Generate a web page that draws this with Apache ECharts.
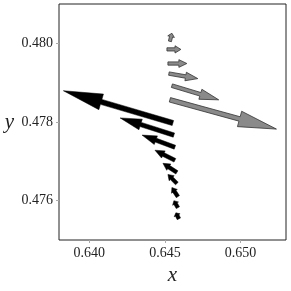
<!DOCTYPE html>
<html><head><meta charset="utf-8">
<script src="https://cdn.jsdelivr.net/npm/echarts@6/dist/echarts.min.js"></script>
<style>html,body{margin:0;padding:0;background:#fff}#c{width:291px;height:291px}</style>
</head><body><div id="c"></div>
<script>
// Black arrows: tail x, tail y, dx, dy
var blackX = [0.645526,0.645592,0.645658,0.645658,0.645789,0.645789,0.645855,0.645855,0.645921];
var blackY = [0.477974,0.477667,0.477359,0.477026,0.476718,0.476436,0.476103,0.475821,0.475538];
var blackU = [-0.007237,-0.003553,-0.002171,-0.001316,-0.000921,-0.000592,-0.000395,-0.000263,-0.000197];
var blackV = [0.000821,0.000436,0.000308,0.000256,0.000231,0.000231,0.000231,0.000179,0.000154];
// Gray arrows
var grayX = [0.645329,0.645461,0.645263,0.645197,0.645132,0.645329];
var grayY = [0.478564,0.478923,0.479231,0.479487,0.479846,0.480051];
var grayU = [0.007039,0.003092,0.001908,0.001250,0.000921,0.000132];
var grayV = [-0.000744,-0.000359,-0.000128,0.000000,0.000000,0.000205];
var xTicks = [0.640,0.645,0.650];
var yTicks = [0.476,0.478,0.480];

function rows(X,Y,U,V){return X.map(function(x,i){return [x,Y[i],U[i],V[i]];});}

function makeRender(fill, stroke, swBase, lw){
  return function(params, api){
    var x=api.value(0), y=api.value(1), u=api.value(2), v=api.value(3);
    var p0=api.coord([x,y]), p1=api.coord([x+u,y+v]);
    var dx=p1[0]-p0[0], dy=p1[1]-p0[1];
    var L=Math.sqrt(dx*dx+dy*dy)||1;
    var ux=dx/L, uy=dy/L, nx=-uy, ny=ux;
    var hl=Math.min(L*0.42, 4+0.31*L);
    var hw=3+0.045*L;
    var sw=swBase+0.007*L;
    var bx=p1[0]-ux*hl, by=p1[1]-uy*hl;
    var pts=[
      [p0[0]+nx*sw,p0[1]+ny*sw],[bx+nx*sw,by+ny*sw],[bx+nx*hw,by+ny*hw],
      [p1[0],p1[1]],
      [bx-nx*hw,by-ny*hw],[bx-nx*sw,by-ny*sw],[p0[0]-nx*sw,p0[1]-ny*sw]
    ];
    return {type:'polygon', shape:{points:pts}, style:{fill:fill, stroke:stroke, lineWidth:lw}};
  };
}

var axisLabel={fontFamily:'Liberation Serif',fontSize:14,color:'#222'};
var chart=echarts.init(document.getElementById('c'),null,{renderer:'canvas'});
chart.setOption({
  animation:false,
  backgroundColor:'#fff',
  grid:{left:59,right:5,top:4,bottom:51,show:true,borderColor:'#222',borderWidth:1,backgroundColor:'transparent'},
  xAxis:{type:'value',min:0.638,max:0.653,interval:0.005,
    axisLine:{show:false},splitLine:{show:false},
    axisTick:{show:true,length:3,lineStyle:{color:'#aaa'},customValues:xTicks},
    axisLabel:Object.assign({margin:6,customValues:xTicks,formatter:function(v){return v.toFixed(3);}},axisLabel),
    name:'x',nameLocation:'middle',nameGap:20,
    nameTextStyle:{fontFamily:'Liberation Serif',fontStyle:'italic',fontSize:21,color:'#222'}},
  yAxis:{type:'value',min:0.475,max:0.481,
    axisLine:{show:false},splitLine:{show:false},
    axisTick:{show:true,length:3,lineStyle:{color:'#aaa'},customValues:yTicks},
    axisLabel:Object.assign({margin:6,customValues:yTicks,formatter:function(v){return v.toFixed(3);}},axisLabel),
    name:'y',nameLocation:'middle',nameGap:45,nameRotate:0,
    nameTextStyle:{fontFamily:'Liberation Serif',fontStyle:'italic',fontSize:21,color:'#222'}},
  series:[
    {type:'custom',renderItem:makeRender('#000','#000',1.8,0.5),data:rows(blackX,blackY,blackU,blackV),clip:true},
    {type:'custom',renderItem:makeRender('#8a8a8a','#333',1.5,0.8),data:rows(grayX,grayY,grayU,grayV),clip:true}
  ]
});
</script></body></html>
